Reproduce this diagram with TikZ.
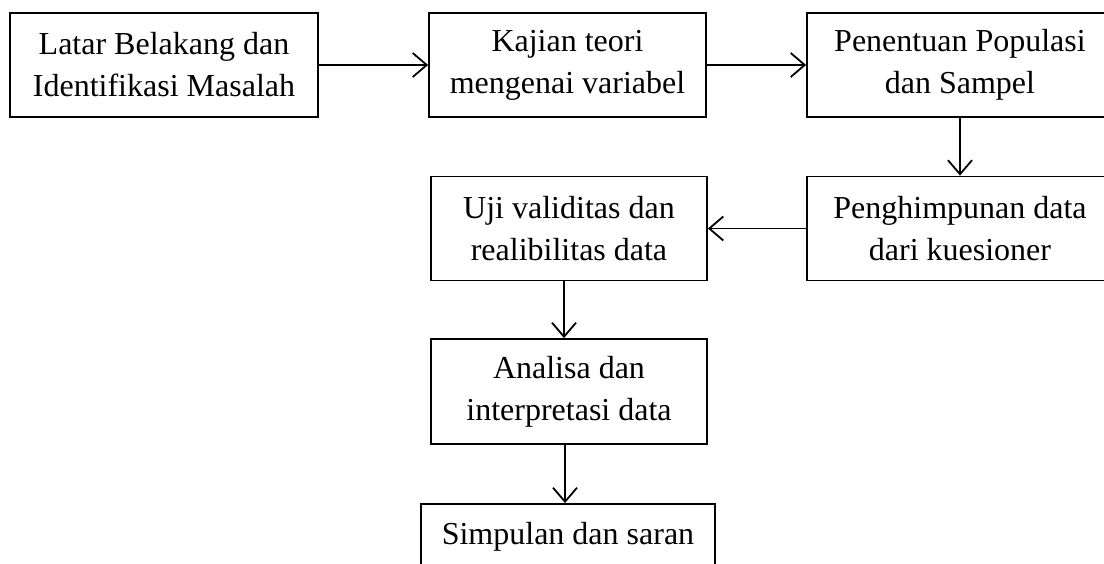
\documentclass[tikz,border=0pt]{standalone}
\usepackage{fontspec}
\setmainfont{Liberation Serif}
\usetikzlibrary{arrows.meta}
\tikzset{
  stepbox/.style={draw=black, line width=1.8pt, align=center, inner sep=0pt,
    font=\fontsize{32}{42}\selectfont, minimum height=104pt},
  conn/.style={draw=black, line width=1.8pt, -{Straight Barb[length=14pt,width=24pt,line width=1.8pt]}}
}
\begin{document}
\begin{tikzpicture}[x=1pt,y=-1pt]
\useasboundingbox (0,0) rectangle (1104,564);
\clip (0,0) rectangle (1104,564);
\node[stepbox, minimum width=308pt] (b1) at (164,65) {Latar Belakang dan\\Identifikasi Masalah};
\node[stepbox, minimum width=277pt] (b2) at (567.5,65) {Kajian teori\\mengenai variabel};
\node[stepbox, minimum width=306pt] (b3) at (960,65) {Penentuan Populasi\\dan Sampel};
\node[stepbox, minimum width=306pt] (b4) at (960,228.5) {Penghimpunan data\\dari kuesioner};
\node[stepbox, minimum width=276pt] (b5) at (569,228.5) {Uji validitas dan\\realibilitas data};
\node[stepbox, minimum width=276pt, minimum height=105pt] (b6) at (569,391.5) {Analisa dan\\interpretasi data};
\node[stepbox, minimum width=294pt, minimum height=66pt] (b7) at (568,537) {Simpulan dan saran};
\draw[conn] (b1.east) -- (b2.west);
\draw[conn] (b2.east) -- (b3.west);
\draw[conn] (b3.south) -- (b4.north);
\draw[conn] (b4.west) -- (b5.east);
\draw[conn] ([xshift=-5pt]b5.south) -- ([xshift=-5pt]b6.north);
\draw[conn] ([xshift=-4pt]b6.south) -- ([xshift=-4pt]b6.south |- b7.north);
\end{tikzpicture}
\end{document}
